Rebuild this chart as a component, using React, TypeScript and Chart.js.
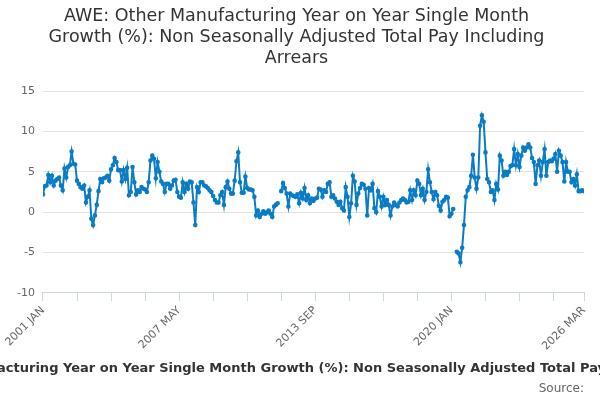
import React, { useEffect, useRef } from "react";
import { Chart, registerables } from "chart.js";
Chart.register(...registerables);

const MONTHS = ["JAN","FEB","MAR","APR","MAY","JUN","JUL","AUG","SEP","OCT","NOV","DEC"];
const START_YEAR = 2001;
const TITLE_LINES = ["AWE: Other Manufacturing Year on Year Single Month", "Growth (%): Non Seasonally Adjusted Total Pay Including", "Arrears"];
const AXIS_TITLE = "AWE: Other Manufacturing Year on Year Single Month Growth (%): Non Seasonally Adjusted Total Pay Including Arrears";
const Y_TICKS = [-10, -5, 0, 5, 10, 15];

const seg2001 = [2.2,3.2,3.3,4.6,3.7,4.5,3.3,3.9,4.1,4.3,3.3,2.7,5.4,4.3,5.6,5.8,7.5,6.0,5.9,3.9,3.5,3.1,2.9,3.3,1.2,1.9,2.7,-0.8,-1.6,-0.4,0.9,2.6,4.1,3.7,4.2,4.3,4.5,3.9,5.3,5.8,6.7,6.2,5.2,5.2,3.8,5.2,4.1,5.5,2.1,2.5,5.6,3.7,2.2,2.7,2.5,3.1,2.9,2.8,2.5,3.7,6.4,7.0,6.6,4.2,6.2,5.0,3.8,3.5,2.5,3.5,3.5,2.9,3.3,3.9,4.0,2.5,1.9,1.8,3.7,2.5,3.5,2.9,3.8,3.7,1.2,-1.6,3.1,2.5,3.7,3.7,3.3,3.2,3.0,2.7,2.5,2.0,1.5,1.2,1.2];
const seg2009 = [2.1,2.5,0.9,3.1,3.8,2.9,2.3,2.3,3.9,6.3,7.4,3.7,2.4,2.4,4.4,3.0,2.8,2.8,2.7,1.9,-0.4,0.2,-0.6,-0.2,0.1,-0.2,0.0,0.2,-0.2,-0.6,0.7,0.9,1.1,null,2.6,3.6,3.0,2.3,0.7,2.3,2.1,2.0,1.9,2.2,1.1,2.4,1.7,3.0,1.5,2.1,1.1,1.7,1.4,1.7,1.8,2.9,2.8,1.9,2.7,2.5,3.5,3.7,1.9,2.1,1.7,1.3,0.9,1.3,0.5,0.2,3.1,1.9,-0.6,1.1,4.5,3.8,0.9,2.3,3.0,3.5,3.4,2.9,-0.4,3.0,2.7,3.5,0.5,0.0,2.6,1.9,0.7,1.9,0.9,1.5,0.9,-0.4,0.7,1.2,0.9,0.7,1.2,1.5,1.7,1.5,1.2,1.3,2.7];
const seg2018 = [1.5,2.7,2.1,3.9,3.5,2.1,2.9,1.5,2.5,5.3,3.7,2.5,1.6,2.5,2.1,0.8,0.2,1.3,1.5,1.9,1.8,-0.5,-0.2,0.4,null,-4.9,-5.1,-6.2,-4.4,-1.6,1.9,2.7,3.1,4.5,7.1,4.3,2.9,4.3,10.7,12.0,11.2,7.4,4.1,3.7,2.5,2.7,1.5,3.5,2.8,7.0,6.4,4.5,5.0,4.6,5.0,5.7,5.8,7.8,5.8,7.2,5.6,7.0,8.0,7.6,8.0,8.4,8.0,6.7,6.2,3.5,5.8,6.4,4.5,6.2,7.8,4.5,6.2,6.4,6.3,6.6,7.2,5.0,7.6,7.0,6.2,3.8,6.2,5.0,5.0,3.7,4.1,3.3,4.7,2.6,2.6,2.7,2.6];
const values: (number | null)[] = [...seg2001, ...seg2009, ...seg2018];

const label = (i: number) => `${START_YEAR + Math.floor(i / 12)} ${MONTHS[i % 12]}`;

const axisTitlePlugin = {
  id: "axisTitleFull",
  afterDraw(chart: any) {
    const { ctx, width } = chart;
    ctx.save();
    ctx.font = "bold 13px 'DejaVu Sans'";
    ctx.fillStyle = "#333";
    ctx.textAlign = "center";
    ctx.textBaseline = "middle";
    ctx.fillText(AXIS_TITLE, width / 2, 369);
    ctx.restore();
  },
};

export default function App() {
  const ref = useRef<HTMLCanvasElement>(null);
  useEffect(() => {
    const last = values.length - 1;
    const chart = new Chart(ref.current!, {
      type: "line",
      data: {
        datasets: [{
          data: values.map((v, i) => ({ x: i, y: v })),
          borderColor: "#0a7cc4",
          backgroundColor: "#0a7cc4",
          borderWidth: 2,
          pointRadius: 1.3,
          pointHoverRadius: 2,
          spanGaps: false,
          tension: 0,
        }],
      },
      plugins: [axisTitlePlugin],
      options: {
        animation: false,
        responsive: false,
        layout: { padding: { left: 9, right: 16, top: 4, bottom: 4 } },
        plugins: {
          legend: { display: false },
          tooltip: { enabled: false },
          title: {
            display: true,
            text: TITLE_LINES,
            color: "#333",
            font: { family: "DejaVu Sans", size: 17.5, weight: "normal", lineHeight: 1.2 },
            padding: { top: 2, bottom: 22 },
          },
          subtitle: {
            display: true,
            text: "Source:",
            position: "bottom",
            align: "end",
            color: "#666",
            font: { family: "DejaVu Sans", size: 12 },
            padding: { top: 0, bottom: 0 },
          },
        },
        scales: {
          x: {
            type: "linear",
            min: 0,
            max: last,
            afterBuildTicks: (axis: any) => {
              const t = [];
              for (let v = 0; v < last - 5; v += 19) t.push({ value: v });
              t.push({ value: last });
              axis.ticks = t;
            },
            ticks: {
              autoSkip: false,
              maxRotation: 45,
              minRotation: 45,
              color: "#666",
              font: { family: "DejaVu Sans", size: 11 },
              callback: (v: any) => (v === last || (v % 76 === 0)) ? label(v) : "",
            },
            grid: { display: true, drawOnChartArea: false, drawTicks: true, tickLength: 8, color: "#c8d6e8" },
            border: { display: true, color: "#c8d6e8" },
            title: {
              display: true,
              text: " ",
              color: "rgba(0,0,0,0)",
              font: { family: "DejaVu Sans", size: 13, weight: "bold" },
              padding: { top: 8, bottom: 2 },
            },
          },
          y: {
            min: -10,
            max: 15,
            afterBuildTicks: (axis: any) => { axis.ticks = Y_TICKS.map((v) => ({ value: v })); },
            ticks: { color: "#666", font: { family: "DejaVu Sans", size: 11 }, padding: 8 },
            grid: { color: "#e2e2e2", drawTicks: false },
            border: { display: false },
          },
        },
      },
    });
    return () => chart.destroy();
  }, []);
  return (
    <div style={{ position: "fixed", left: 0, top: 0, width: 600, height: 400, background: "#fff" }}>
      <canvas ref={ref} width={600} height={400} />
    </div>
  );
}
